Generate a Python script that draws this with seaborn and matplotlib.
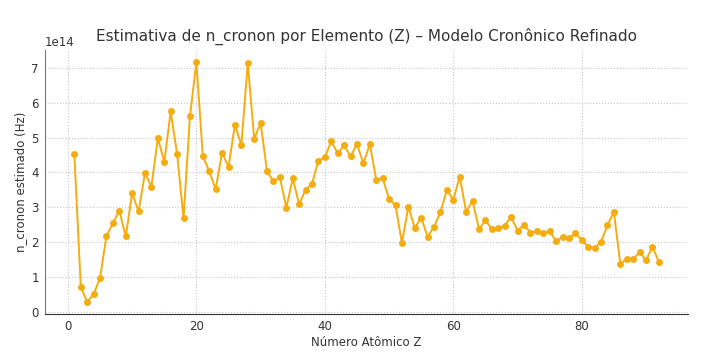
import matplotlib
matplotlib.use("Agg")
import matplotlib.pyplot as plt
import seaborn as sns
import numpy as np
import pandas as pd

z_values = list(range(1, 93))
n_cronon_e14 = [
    4.52, 0.72, 0.28, 0.50, 0.97, 2.17, 2.54, 2.90, 2.16, 3.40,
    2.88, 3.98, 3.59, 4.99, 4.30, 5.75, 4.52, 2.69, 5.61, 7.17,
    4.47, 4.03, 3.52, 4.57, 4.15, 5.37, 4.78, 7.14, 4.96, 5.42,
    4.03, 3.74, 3.86, 2.98, 3.83, 3.08, 3.50, 3.67, 4.34, 4.43,
    4.90, 4.55, 4.78, 4.46, 4.81, 4.26, 4.81, 3.79, 3.83, 3.24,
    3.05, 1.97, 3.02, 2.40, 2.70, 2.15, 2.44, 2.86, 3.50, 3.21,
    3.88, 2.87, 3.18, 2.37, 2.62, 2.37, 2.40, 2.47, 2.72, 2.33,
    2.50, 2.27, 2.31, 2.26, 2.31, 2.02, 2.15, 2.11, 2.25, 2.06,
    1.86, 1.84, 1.99, 2.49, 2.86, 1.37, 1.52, 1.51, 1.71, 1.47,
    1.87, 1.43,
]

df = pd.DataFrame({
    "Z": z_values,
    "n_cronon": np.array(n_cronon_e14) * 1e14,
})

sns.set_style("whitegrid", {"grid.linestyle": ":", "grid.color": "#c8c8c8"})
plt.rcParams["font.family"] = ["DejaVu Sans"]

fig, ax = plt.subplots(figsize=(7.05, 3.6), dpi=100)
sns.lineplot(df, x="Z", y="n_cronon", ax=ax, color="#f5ac0f",
             marker="o", markersize=5, markeredgewidth=0, linewidth=1.4)

ax.set_title("Estimativa de n_cronon por Elemento (Z) – Modelo Cronônico Refinado",
             fontsize=11, color="#333333", pad=7)
ax.set_xlabel("Número Atômico Z", fontsize=8.5, color="#333333", labelpad=2)
ax.set_ylabel("n_cronon estimado (Hz)", fontsize=8.5, color="#333333", labelpad=3)
ax.set_xticks([0, 20, 40, 60, 80])
ax.tick_params(axis="both", labelsize=8.5, colors="#333333", length=2.5, pad=2)
ax.yaxis.get_offset_text().set_fontsize(8.5)
sns.despine(ax=ax)
ax.spines["left"].set_color("#777777")
ax.spines["bottom"].set_color("#333333")

fig.subplots_adjust(left=0.064, right=0.976, bottom=0.128, top=0.861)
fig.savefig("out.png", dpi=100)
